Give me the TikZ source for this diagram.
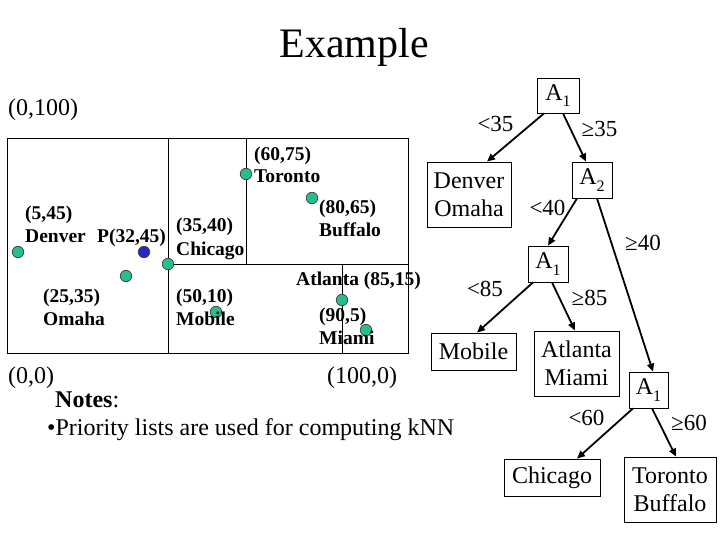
\documentclass[tikz,border=0pt]{standalone}
\usepackage{fontspec}
\setmainfont{Liberation Serif}
\usetikzlibrary{arrows.meta,calc}
\definecolor{dotgreen}{RGB}{38,190,140}
\definecolor{dotblue}{RGB}{40,40,200}
\tikzset{
  maplabel/.style={anchor=west,inner sep=0pt,font=\fontsize{19.5}{22}\selectfont\bfseries,text height=0.66em,text depth=0pt},
  plainlabel/.style={anchor=west,inner sep=0pt,font=\fontsize{24}{28}\selectfont,text height=0.66em,text depth=0pt},
  edgelabel/.style={inner sep=0pt,font=\fontsize{23}{28}\selectfont,text height=0.66em,text depth=0pt},
  city/.style={circle,draw=black!75,line width=0.7pt,fill=dotgreen,minimum size=11.5pt,inner sep=0pt},
  query/.style={circle,draw=black!75,line width=0.7pt,fill=dotblue,minimum size=11.5pt,inner sep=0pt},
  treebox/.style={draw,line width=0.8pt,inner sep=0pt,align=center,font=\fontsize{24}{28}\selectfont},
  treearrow/.style={line width=1.8pt,-{Triangle[length=8pt,width=7pt]}},
  mapline/.style={line width=0.8pt}
}
\newcommand{\Asub}[1]{A\raisebox{-0.28em}{\fontsize{16}{16}\selectfont #1}}
\begin{document}
\begin{tikzpicture}[x=1pt,y=-1pt]
\useasboundingbox (0,0) rectangle (720,540);
% title
\node[font=\fontsize{42}{48}\selectfont,inner sep=0pt] (title) at (354,47) {Example};
% map
\draw[mapline] (7,138) rectangle (408,353);
\draw[mapline] (168,138) -- (168,353);
\draw[mapline] (168,264) -- (408,264);
\draw[mapline] (246,138) -- (246,264);
\draw[mapline] (342,264) -- (342,353);
\node[plainlabel] (c0100) at (8,112) {(0,100)};
\node[plainlabel] (c00) at (8,380) {(0,0)};
\node[plainlabel] (c1000) at (327,380) {(100,0)};
% points
\node[city] (pden) at (18,252) {};
\node[query] (pq) at (144,252) {};
\node[city] (poma) at (126,276) {};
\node[city] (pchi) at (168,264) {};
\node[city] (ptor) at (246,174) {};
\node[city] (pbuf) at (312,198) {};
\node[city] (pmob) at (216,312) {};
\node[city] (patl) at (342,300) {};
\node[city] (pmia) at (366,330) {};
% map labels
\node[maplabel] (l1) at (254,157) {(60,75)};
\node[maplabel] (l2) at (254,179) {Toronto};
\node[maplabel] (l3) at (319,210) {(80,65)};
\node[maplabel] (l4) at (319,233) {Buffalo};
\node[maplabel] (l5) at (25,216) {(5,45)};
\node[maplabel] (l6) at (25,239) {Denver};
\node[maplabel] (l7) at (97,239) {P(32,45)};
\node[maplabel] (l8) at (176,228) {(35,40)};
\node[maplabel] (l9) at (176,252) {Chicago};
\node[maplabel] (l10) at (43,299) {(25,35)};
\node[maplabel] (l11) at (43,322) {Omaha};
\node[maplabel] (l12) at (176,299) {(50,10)};
\node[maplabel] (l13) at (176,322) {Mobile};
\node[maplabel] (l14) at (296,282) {Atlanta (85,15)};
\node[maplabel] (l15) at (319,318) {(90,5)};
\node[maplabel] (l16) at (319,341) {Miami};
% notes
\node[plainlabel] (notes) at (55,404) {\textbf{Notes}:};
\node[plainlabel] (bul) at (47,432) {•Priority lists are used for computing kNN};
% tree
\node[treebox,minimum width=42pt,minimum height=35pt] (A1a) at (558,95.5) {\Asub{1}};
\node[treebox,minimum width=84pt,minimum height=65pt] (DO) at (469,194.5) {Denver\\Omaha};
\node[treebox,minimum width=40pt,minimum height=36pt] (A2) at (592,180) {\Asub{2}};
\node[treebox,minimum width=40pt,minimum height=36pt] (A1b) at (548,264) {\Asub{1}};
\node[treebox,minimum width=85pt,minimum height=37pt] (Mob) at (473.5,351.5) {Mobile};
\node[treebox,minimum width=85pt,minimum height=65pt] (AM) at (576.5,363.5) {Atlanta\\Miami};
\node[treebox,minimum width=39pt,minimum height=36pt] (A1c) at (648.5,390) {\Asub{1}};
\node[treebox,minimum width=96pt,minimum height=37pt] (Chi) at (552,477.5) {Chicago};
\node[treebox,minimum width=92pt,minimum height=65pt] (TB) at (670,489.5) {Toronto\\Buffalo};
% tree arrows
\draw[treearrow] ($(A1a.south)+(-14,0)$) -- ($(DO.north)+(18,0)$);
\draw[treearrow] ($(A1a.south)+(5,0)$) -- ($(A2.north)+(-6,0)$);
\draw[treearrow] ($(A2.south)+(-15,0)$) -- (A1b.north);
\draw[treearrow] ($(A2.south)+(5,0)$) -- ($(A1c.north)+(4.5,0)$);
\draw[treearrow] ($(A1b.south)+(-15,0)$) -- ($(Mob.north)+(3.5,0)$);
\draw[treearrow] ($(A1b.south)+(4,0)$) -- ($(AM.north)+(-1.5,0)$);
\draw[treearrow] ($(A1c.south)+(-15.5,0)$) -- ($(Chi.north)+(25,0)$);
\draw[treearrow] ($(A1c.south)+(3.5,0)$) -- ($(TB.north)+(6,0)$);
% edge labels
\node[edgelabel] (e1) at (495.5,128) {<35};
\node[edgelabel] (e2) at (599.5,133) {≥35};
\node[edgelabel] (e3) at (547.5,212) {<40};
\node[edgelabel] (e4) at (643,247) {≥40};
\node[edgelabel] (e5) at (485,293) {<85};
\node[edgelabel] (e6) at (589.5,302) {≥85};
\node[edgelabel] (e7) at (586.5,422) {<60};
\node[edgelabel] (e8) at (689,427) {≥60};
\end{tikzpicture}
\end{document}
